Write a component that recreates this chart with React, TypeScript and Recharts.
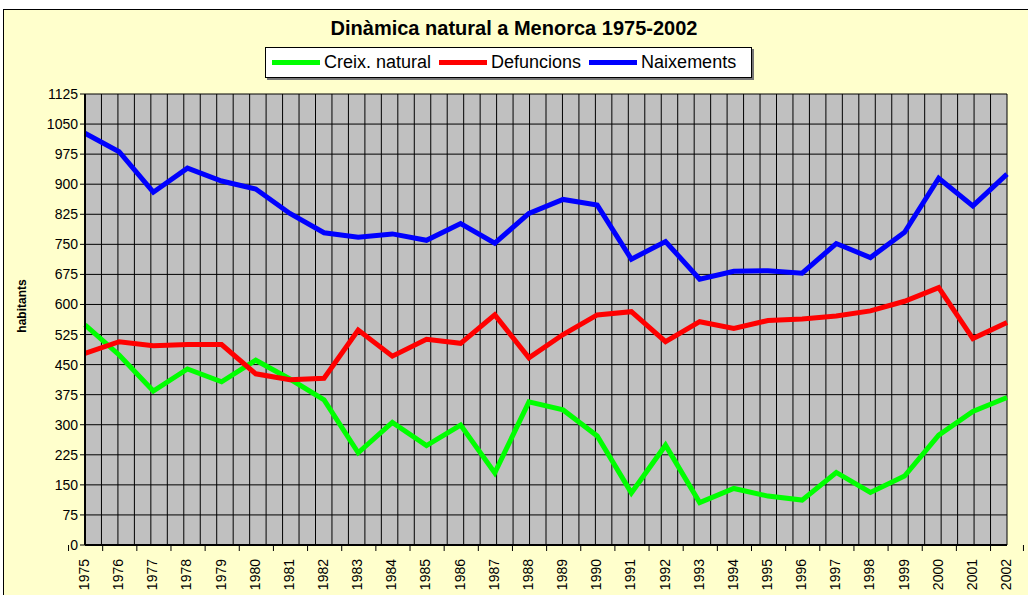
import { LineChart, Line, XAxis, YAxis, CartesianGrid } from "recharts";

const years = [
  "1975", "1976", "1977", "1978", "1979", "1980", "1981", "1982", "1983", "1984",
  "1985", "1986", "1987", "1988", "1989", "1990", "1991", "1992", "1993", "1994",
  "1995", "1996", "1997", "1998", "1999", "2000", "2001", "2002",
];

const creixNatural = [
  549, 474, 384, 439, 407, 461, 414, 362, 230, 306,
  248, 299, 180, 357, 337, 272, 130, 249, 106, 141,
  122, 112, 181, 131, 172, 274, 333, 368,
];

const defuncions = [
  478, 507, 497, 500, 500, 427, 412, 416, 536, 471,
  513, 503, 574, 467, 525, 574, 582, 507, 557, 540,
  560, 564, 571, 584, 608, 642, 515, 555,
];

const naixements = [
  1027, 981, 880, 940, 908, 888, 827, 779, 768, 776,
  760, 802, 753, 827, 862, 848, 713, 757, 663, 683,
  684, 678, 752, 717, 780, 915, 846, 925,
];

const yTicks = [0, 75, 150, 225, 300, 375, 450, 525, 600, 675, 750, 825, 900, 975, 1050, 1125];

const series = [
  { key: "creix", name: "Creix. natural", color: "#00FF00" },
  { key: "defuncions", name: "Defuncions", color: "#FF0000" },
  { key: "naixements", name: "Naixements", color: "#0000FF" },
];

const data = years.map((year, i) => ({
  year,
  creix: creixNatural[i],
  defuncions: defuncions[i],
  naixements: naixements[i],
}));

const FONT = "Arial, 'Liberation Sans', sans-serif";
const PLOT_LEFT = 85;
const PLOT_RIGHT = 1007;
const BAND = (PLOT_RIGHT - PLOT_LEFT) / years.length;

function YearTick(props: any) {
  const { x, y, payload, index } = props;
  const last = index === years.length - 1;
  return (
    <g>
      <line x1={x - BAND / 2} x2={x - BAND / 2} y1={y - 8} y2={y - 2} stroke="#000" strokeWidth={1} />
      {last && (
        <line x1={x + BAND / 2} x2={x + BAND / 2} y1={y - 8} y2={y - 2} stroke="#000" strokeWidth={1} />
      )}
      <text
        x={0}
        y={0}
        transform={`translate(${x + 4},${y + 6}) rotate(-90)`}
        textAnchor="end"
        fontSize={14}
        fontFamily={FONT}
        fill="#000"
      >
        {payload.value}
      </text>
    </g>
  );
}

function LegendBox() {
  return (
    <div
      style={{
        position: "absolute",
        left: 265,
        top: 47,
        width: 487,
        height: 31,
        display: "flex",
        alignItems: "center",
        border: "1px solid #000",
        background: "#fff",
        padding: "0 6px",
        boxSizing: "border-box",
        boxShadow: "2px 2px 0 #777",
        fontFamily: FONT,
        fontSize: 18,
      }}
    >
      {series.map((s) => (
        <div key={s.key} style={{ display: "flex", alignItems: "center", marginRight: 8 }}>
          <div style={{ width: 48, height: 5, background: s.color, marginRight: 4 }} />
          <span>{s.name}</span>
        </div>
      ))}
    </div>
  );
}

export default function App() {
  return (
    <div
      style={{
        position: "absolute",
        left: 0,
        top: 0,
        width: 1028,
        height: 595,
        overflow: "hidden",
        background: "#fff",
      }}
    >
      <div
        style={{
          position: "absolute",
          left: 3,
          top: 9,
          width: 1100,
          height: 700,
          border: "1px solid #000",
          background: "#FFFFCC",
        }}
      />
      <div
        style={{
          position: "absolute",
          left: 0,
          width: 1028,
          top: 17,
          textAlign: "center",
          fontFamily: FONT,
          fontWeight: "bold",
          fontSize: 20,
        }}
      >
        Dinàmica natural a Menorca 1975-2002
      </div>
      <LegendBox />
      <div style={{ position: "absolute", left: 0, top: 0 }}>
        <LineChart
          width={1028}
          height={595}
          data={data}
          margin={{ top: 94, right: 1028 - PLOT_RIGHT, bottom: 0, left: PLOT_LEFT - 50 }}
        >
          <CartesianGrid
            fill="#C0C0C0"
            fillOpacity={1}
            stroke="#000"
            strokeWidth={1}
            verticalCoordinatesGenerator={({ offset }: any) =>
              Array.from({ length: years.length * 2 + 1 }, (_, i) => offset.left + (i * offset.width) / (years.length * 2))
            }
          />
          <XAxis
            dataKey="year"
            height={50}
            interval={0}
            tickLine={false}
            axisLine={{ stroke: "#000", strokeWidth: 2 }}
            tick={<YearTick />}
          />
          <YAxis
            width={50}
            domain={[0, 1125]}
            ticks={yTicks}
            interval={0}
            tickSize={5}
            tickLine={{ stroke: "#000" }}
            axisLine={{ stroke: "#000", strokeWidth: 2 }}
            tick={{ fill: "#000", fontSize: 14, fontFamily: FONT }}
            label={{
              value: "habitants",
              content: () => (
                <text
                  transform="translate(26,306) rotate(-90)"
                  textAnchor="middle"
                  fontFamily={FONT}
                  fontSize={12}
                  fontWeight="bold"
                  fill="#000"
                >
                  habitants
                </text>
              ),
            }}
          />
          {series.map((s) => (
            <Line
              key={s.key}
              type="linear"
              dataKey={s.key}
              name={s.name}
              stroke={s.color}
              strokeWidth={5}
              dot={false}
              activeDot={false}
              isAnimationActive={false}
            />
          ))}
        </LineChart>
      </div>
    </div>
  );
}
